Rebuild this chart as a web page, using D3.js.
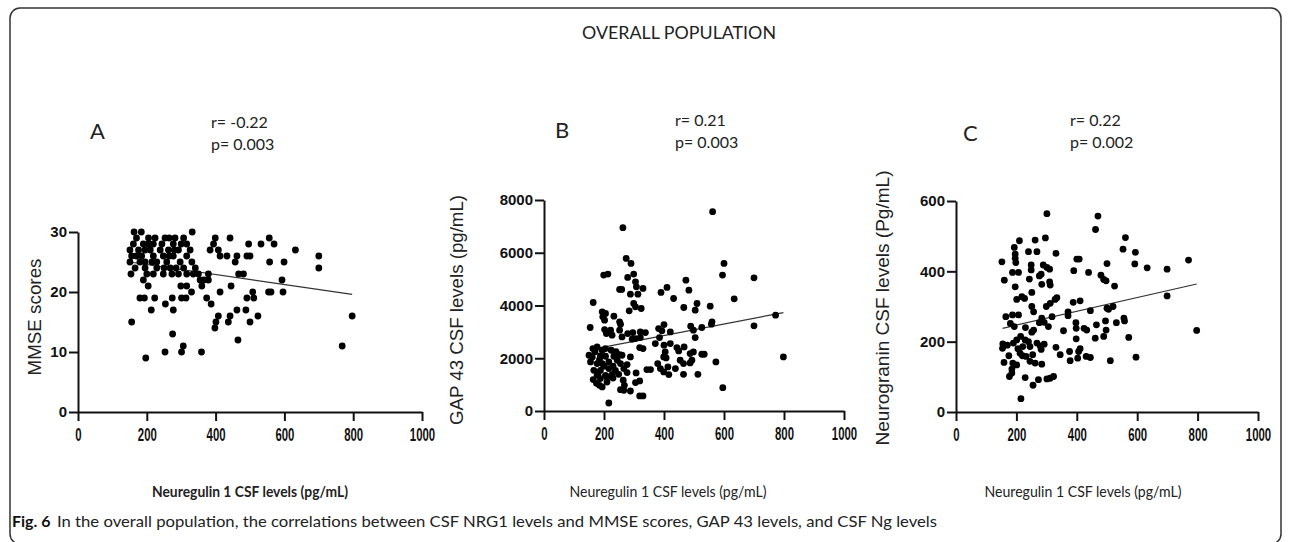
<!DOCTYPE html>
<html><head><meta charset="utf-8">
<script src="https://cdn.jsdelivr.net/npm/d3@7"></script>
<style>body{margin:0;background:#fff}svg{display:block}</style>
</head><body><svg id="c" width="1290" height="542"></svg>
<script>
// ---------- DATA ----------
const title = "OVERALL POPULATION";
const xTicks = [0, 200, 400, 600, 800, 1000];
const xTitle = "Neuregulin 1 CSF levels (pg/mL)";
const captionBold = "Fig. 6";
const captionText = "In the overall population, the correlations between CSF NRG1 levels and MMSE scores, GAP 43 levels, and CSF Ng levels";

// Panel A: NRG1 vs MMSE
const nrgA = [163,184,332, 205,224,253,282,307,399,442,556,170,265, 161,190,219,244,277,316,394,496,532,570,205,300,
  151,176,210,239,263,292,326,384,408,632,195,280, 156,185,219,248,277,316,413,433,462,491,500,700,170,265,
  151,195,229,258,297,331,457,557,599,180,215, 166,195,229,268,307,341,700,250,285,
  154,219,248,273,292,316,350,379,467,481,200,335, 190,355,366,379,593, 204,299,316,360,445,
  330,413,508,554,561,596, 180,193,223,274,301,314,374,491,511, 254,387, 213,277,462,488,
  408,442,523,797, 156,401,437,500, 398, 275, 465, 306,768, 253,301,359, 197];
const mmseA = [30,30,30, 29,29,29,29,29,29,29,29,29,29, 28,28,28,28,28,28,28,28,28,28,28,28,
  27,27,27,27,27,27,27,27,27,27,27,27, 26,26,26,26,26,26,26,26,26,26,26,26,26,26,
  25,25,25,25,25,25,25,25,25,25,25, 24,24,24,24,24,24,24,24,24,
  23,23,23,23,23,23,23,23,23,23,23,23, 22,22,22,22,22, 21,21,21,21,21,
  20,20,20,20,20,20, 19,19,19,19,19,19,19,19,19, 18,18, 17,17,17,17,
  16,16,16,16, 15,15,15,15, 14, 13, 12, 11,11, 10,10,10, 9];
const fitAx = [150, 797], fitAy = [25.0, 19.6];

// Panel B: NRG1 vs GAP 43
const nrgB = [216,562,263,274,290,199,213,299,279,305,252,259,330,308,288,313,164,299,305,284,324,194,205,196,202,233,252,255,154,202,222,208,227,252,260,296,279,321,338,321,305,294,319,330,177,163,194,205,224,150,161,188,205,233,252,260,288,244,155,177,194,216,255,277,166,188,216,238,266,277,177,205,227,249,164,188,210,264,307,185,194,268,266,288,305,319,255,319,330,
  390,410,473,483,432,466,510,504,554,595,600,700,634,772,700,560,558,526,489,498,504,382,393,400,421,371,385,400,421,443,449,467,404,399,407,487,498,526,534,454,465,493,487,573,379,388,355,343,399,413,416,438,465,513,798,596,
  170,185,200,230,240,180,210,230,175];
const gapB = [304,7557,6949,5785,5595,5152,5190,5190,5063,4899,4608,4608,4646,4709,4430,4430,4114,4076,3949,3797,3886,3759,3696,3570,3443,3595,3380,3291,3165,3089,3063,2937,2873,3063,2810,2975,2937,3000,2975,2785,2747,2722,2405,2367,2430,2367,2304,2367,2304,2114,2051,2089,2076,2076,2139,2114,2051,1924,1861,1797,1797,1861,1797,1759,1544,1544,1608,1544,1608,1456,1354,1354,1392,1392,1190,1228,1291,1165,1443,975,911,975,785,759,1076,1139,810,570,570,
  4494,4684,4962,4582,4266,3924,4076,3823,3975,5152,5595,5051,4253,3633,3228,3380,3291,3165,3215,3063,2785,3127,3038,3278,3000,2557,2785,2494,2557,2405,2278,2430,2240,2051,2013,2177,2240,2152,2152,1924,1797,1924,1823,1861,1797,1608,1570,1570,1481,1671,1380,1608,1392,1392,2051,886,
  2250,1950,1700,1700,2250,1400,1100,1250,1050];
const fitBx = [155, 798], fitBy = [2330, 3730];

// Panel C: NRG1 vs Neurogranin
const nrgC = [301,470,462,296,210,262,193,240,268,331,152,196,196,198,249,249,289,301,310,187,207,282,276,160,243,310,312,284,196,251,218,201,227,334,328,312,299,251,257,187,207,165,180,193,257,251,284,292,306,276,318,214,201,190,155,154,229,221,245,212,268,279,292,282,254,232,245,262,284,159,188,185,185,177,201,229,255,273,301,312,323,215,331,345,356,371,371,388,411,376,378,390,400,408,439,397,398,424,433,398,406,411,403,431,445,445,480,489,497,500,525,465,461,495,497,489,500,505,520,531,511,556,558,553,561,572,594,592,633,596,699,699,770,797,
  170,205,220,240,175,230];
const ngC = [564,557,519,495,487,489,468,456,456,451,427,449,437,425,418,404,418,411,406,397,397,392,387,375,378,370,361,363,356,340,328,320,323,325,320,309,300,300,285,276,276,271,252,243,233,227,267,255,243,254,271,215,205,196,194,181,205,186,186,167,196,188,193,178,163,158,144,139,136,141,139,122,111,101,134,98,76,92,94,96,101,38,184,163,231,285,274,312,316,172,146,402,435,435,397,254,238,238,233,208,172,180,153,158,155,288,389,377,373,422,358,248,210,259,233,215,295,292,300,254,146,267,259,463,496,212,454,421,410,156,406,330,432,232,
  190,180,160,200,160,240];
const fitCx = [154, 797], fitCy = [238, 364];

const panelLetters = ["A", "B", "C"];
const rTexts = ["r= -0.22", "r= 0.21", "r= 0.22"];
const pTexts = ["p= 0.003", "p= 0.003", "p= 0.002"];
const yTitles = ["MMSE scores", "GAP 43 CSF levels (pg/mL)", "Neurogranin CSF levels (Pg/mL)"];
const yTicksA = [0, 10, 20, 30], yTicksB = [0, 2000, 4000, 6000, 8000], yTicksC = [0, 200, 400, 600];

// ---------- DRAW ----------
const svg = d3.select("#c");
const ui = "Lato, 'Open Sans', sans-serif";
const ar = "'Liberation Sans', Arial, sans-serif";

svg.append("rect").attr("x", 10).attr("y", 8).attr("width", 1271).attr("height", 536)
  .attr("rx", 10).attr("fill", "none").attr("stroke", "#333").attr("stroke-width", 1.5);

svg.append("text").attr("x", 679).attr("y", 39).attr("text-anchor", "middle")
  .attr("font-family", ui).attr("font-size", 18).attr("fill", "#222")
  .attr("textLength", 194).attr("lengthAdjust", "spacingAndGlyphs").text(title);

const panels = [
  {xs: nrgA, ys: mmseA, fx: fitAx, fy: fitAy, ymax: 30, yt: yTicksA, x0: 78, x1: 422, y0: 412, y1: 232,
   letter: [90, 139], rp: [211, 128, 150], ytl: [35, 317, 117], xtl: [250, 497, 196, "bold"]},
  {xs: nrgB, ys: gapB, fx: fitBx, fy: fitBy, ymax: 8000, yt: yTicksB, x0: 544, x1: 844, y0: 411, y1: 200,
   letter: [555, 138], rp: [675, 126, 148], ytl: [457, 310, 230], xtl: [668, 497, 197, "normal"]},
  {xs: nrgC, ys: ngC, fx: fitCx, fy: fitCy, ymax: 600, yt: yTicksC, x0: 956, x1: 1258, y0: 412, y1: 201,
   letter: [963, 141], rp: [1070, 126, 148], ytl: [883, 308, 275], xtl: [1083, 497, 197, "normal"]}
];

panels.forEach((p, i) => {
  const x = d3.scaleLinear().domain([0, 1000]).range([p.x0, p.x1]);
  const y = d3.scaleLinear().domain([0, p.ymax]).range([p.y0, p.y1]);
  const g = svg.append("g");

  // axes
  const xa = g.append("g").attr("transform", `translate(0,${p.y0})`)
    .call(d3.axisBottom(x).tickValues(xTicks).tickSize(9).tickSizeOuter(0).tickPadding(7).tickFormat(d3.format("d")));
  const ya = g.append("g").attr("transform", `translate(${p.x0},0)`)
    .call(d3.axisLeft(y).tickValues(p.yt).tickSize(9).tickSizeOuter(0).tickPadding(2).tickFormat(d3.format("d")));
  [xa, ya].forEach(a => {
    a.select(".domain").attr("stroke", "#111").attr("stroke-width", 2);
    a.selectAll(".tick line").attr("stroke", "#111").attr("stroke-width", 2);
    a.selectAll("text").attr("font-family", ar).attr("font-weight", "bold").attr("font-size", 15).attr("fill", "#111");
  });
  xa.selectAll("text").attr("font-size", 19).attr("transform", "scale(0.6,1)");

  // regression line
  g.append("path").datum(p.fx.map((v, k) => [v, p.fy[k]]))
    .attr("d", d3.line().x(d => x(d[0])).y(d => y(d[1])))
    .attr("stroke", "#333").attr("stroke-width", 1.2).attr("fill", "none");

  // points
  g.selectAll("circle.pt").data(p.xs.map((v, k) => [v, p.ys[k]])).join("circle")
    .attr("class", "pt").attr("cx", d => x(d[0])).attr("cy", d => y(d[1]))
    .attr("r", 3.4).attr("fill", "#000");

  // labels
  svg.append("text").attr("x", p.letter[0]).attr("y", p.letter[1]).attr("font-family", ui)
    .attr("font-size", 22).attr("fill", "#222").text(panelLetters[i]);
  svg.append("text").attr("x", p.rp[0]).attr("y", p.rp[1]).attr("font-family", ui)
    .attr("font-size", 16).attr("fill", "#222").text(rTexts[i]);
  svg.append("text").attr("x", p.rp[0]).attr("y", p.rp[2]).attr("font-family", ui)
    .attr("font-size", 16).attr("fill", "#222").text(pTexts[i]);
  svg.append("text").attr("transform", `translate(${p.ytl[0]},${p.ytl[1]}) rotate(-90)`)
    .attr("text-anchor", "middle").attr("dy", "0.35em").attr("font-family", ar).attr("font-size", 18)
    .attr("fill", "#222").attr("textLength", p.ytl[2]).attr("lengthAdjust", "spacingAndGlyphs").text(yTitles[i]);
  svg.append("text").attr("x", p.xtl[0]).attr("y", p.xtl[1]).attr("text-anchor", "middle")
    .attr("font-family", ui).attr("font-size", 16).attr("font-weight", p.xtl[3]).attr("fill", "#222")
    .attr("textLength", p.xtl[2]).attr("lengthAdjust", "spacingAndGlyphs").text(xTitle);
});

// caption
svg.append("text").attr("x", 12).attr("y", 527).attr("font-family", ui).attr("font-size", 16)
  .attr("font-weight", "bold").attr("fill", "#111").text(captionBold);
svg.append("text").attr("x", 57).attr("y", 527).attr("font-family", ui).attr("font-size", 16)
  .attr("fill", "#222").attr("textLength", 880).attr("lengthAdjust", "spacingAndGlyphs").text(captionText);
</script></body></html>
